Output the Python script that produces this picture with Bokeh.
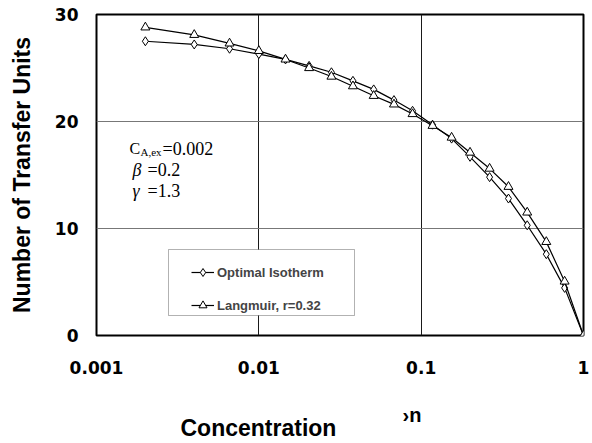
from bokeh.plotting import figure
from bokeh.models import (Label, BoxAnnotation, Legend, LegendItem, FixedTicker,
                          CustomJSTickFormatter, Range1d)
from bokeh.embed import file_html
from bokeh.resources import INLINE

# ---- data ----
concentration = [0.002, 0.004, 0.0066, 0.01, 0.0146, 0.0204, 0.028, 0.038, 0.051, 0.068,
                 0.0885, 0.1175, 0.154, 0.2, 0.264, 0.345, 0.45, 0.59, 0.765, 1.0]
ntu_optimal = [27.5, 27.2, 26.8, 26.3, 25.8, 25.2, 24.6, 23.8, 23.0, 22.0,
               21.0, 19.7, 18.4, 16.7, 14.8, 12.8, 10.3, 7.6, 4.45, 0.0]
ntu_langmuir = [28.8, 28.1, 27.3, 26.6, 25.8, 25.0, 24.2, 23.3, 22.4, 21.6,
                20.7, 19.6, 18.5, 17.1, 15.6, 13.9, 11.5, 8.75, 5.05, 0.0]
series_names = ["Optimal Isotherm", "Langmuir, r=0.32"]
x_ticks = [0.001, 0.01, 0.1, 1]
x_tick_labels = ["0.001", "0.01", "0.1", "1"]
y_ticks = [0, 10, 20, 30]
x_title = "Concentration"
y_title = "Number of Transfer Units"

SANS = "Liberation Sans"
SERIF = "Liberation Serif"

p = figure(width=590, height=441, x_axis_type="log",
           x_range=Range1d(0.001, 1), y_range=Range1d(0, 30),
           output_backend="svg", toolbar_location=None,
           min_border_left=96, min_border_top=14, min_border_right=7, min_border_bottom=106)
p.background_fill_color = "white"
p.border_fill_color = "white"
p.outline_line_color = "black"
p.outline_line_width = 2

p.xaxis.ticker = FixedTicker(ticks=x_ticks)
p.xaxis.formatter = CustomJSTickFormatter(
    args=dict(vals=x_ticks, labels=x_tick_labels),
    code="const i = vals.indexOf(tick); return i >= 0 ? labels[i] : tick.toString();")
p.yaxis.ticker = FixedTicker(ticks=y_ticks)
for ax in (p.xaxis, p.yaxis):
    ax.axis_line_color = None
    ax.major_tick_line_color = None
    ax.minor_tick_line_color = None
    ax.major_tick_in = 0
    ax.major_tick_out = 0
    ax.major_label_text_font = "DejaVu Sans"
    ax.major_label_text_font_style = "bold"
    ax.major_label_text_font_size = "17px"
    ax.major_label_text_color = "black"
p.xaxis.major_label_standoff = 25
p.yaxis.major_label_standoff = 18

p.yaxis.axis_label = y_title
p.yaxis.axis_label_standoff = 17
p.yaxis.axis_label_text_font = SANS
p.yaxis.axis_label_text_font_style = "bold"
p.yaxis.axis_label_text_font_size = "23px"
p.yaxis.axis_label_text_color = "black"

p.xgrid.grid_line_color = "#1a1a1a"
p.xgrid.grid_line_width = 1
p.ygrid.grid_line_color = "#777777"
p.ygrid.grid_line_width = 1

# legend box (opaque)
p.add_layout(BoxAnnotation(left=72, right=258, bottom=20, top=86,
                           left_units="screen", right_units="screen",
                           bottom_units="screen", top_units="screen",
                           fill_color="white", fill_alpha=1,
                           line_color="black", line_width=1))

l1 = p.line(concentration, ntu_optimal, line_color="black", line_width=1.2)
s1 = p.scatter(concentration, ntu_optimal, marker="diamond", size=9,
               fill_color="white", line_color="black", line_width=1)
l2 = p.line(concentration, ntu_langmuir, line_color="black", line_width=1.2)
s2 = p.scatter(concentration, ntu_langmuir, marker="triangle", size=9,
               fill_color="white", line_color="black", line_width=1)

legend = Legend(items=[LegendItem(label=series_names[0], renderers=[l1, s1]),
                       LegendItem(label=series_names[1], renderers=[l2, s2])],
                location=(95, 20), padding=4, spacing=13, margin=0,
                glyph_width=23, glyph_height=20, label_height=20, label_standoff=3,
                border_line_color=None, background_fill_alpha=0,
                label_text_font=SANS, label_text_font_style="bold",
                label_text_font_size="13px")
p.add_layout(legend)


def txt(x, y, s, size="18px", style="normal"):
    p.add_layout(Label(x=x, y=y, x_units="screen", y_units="screen", text=s,
                       text_font=SERIF, text_font_size=size, text_font_style=style,
                       text_color="black", text_baseline="middle"))


# annotation text (parameters)
txt(33, 187, "C", "16px")
txt(44, 184, "A,ex", "11px")
txt(66, 187, "=0.002")
txt(36, 166, "β", "18px", "italic")
txt(51, 166, "=0.2")
txt(36, 145, "γ", "18px", "italic")
txt(51, 145, "=1.3")

# bottom texts, placed in side panels below the axis
p.add_layout(Label(x=306, y=-16, x_units="screen", y_units="screen", text="›n",
                   text_align="left", text_baseline="middle",
                   text_font=SANS, text_font_style="bold", text_font_size="20px",
                   text_color="black"), "below")
p.add_layout(Label(x=84, y=-3, x_units="screen", y_units="screen", text=x_title,
                   text_align="left", text_baseline="middle",
                   text_font=SANS, text_font_style="bold", text_font_size="23px",
                   text_color="black"), "below")

open("out.html", "w").write(file_html(p, INLINE))
